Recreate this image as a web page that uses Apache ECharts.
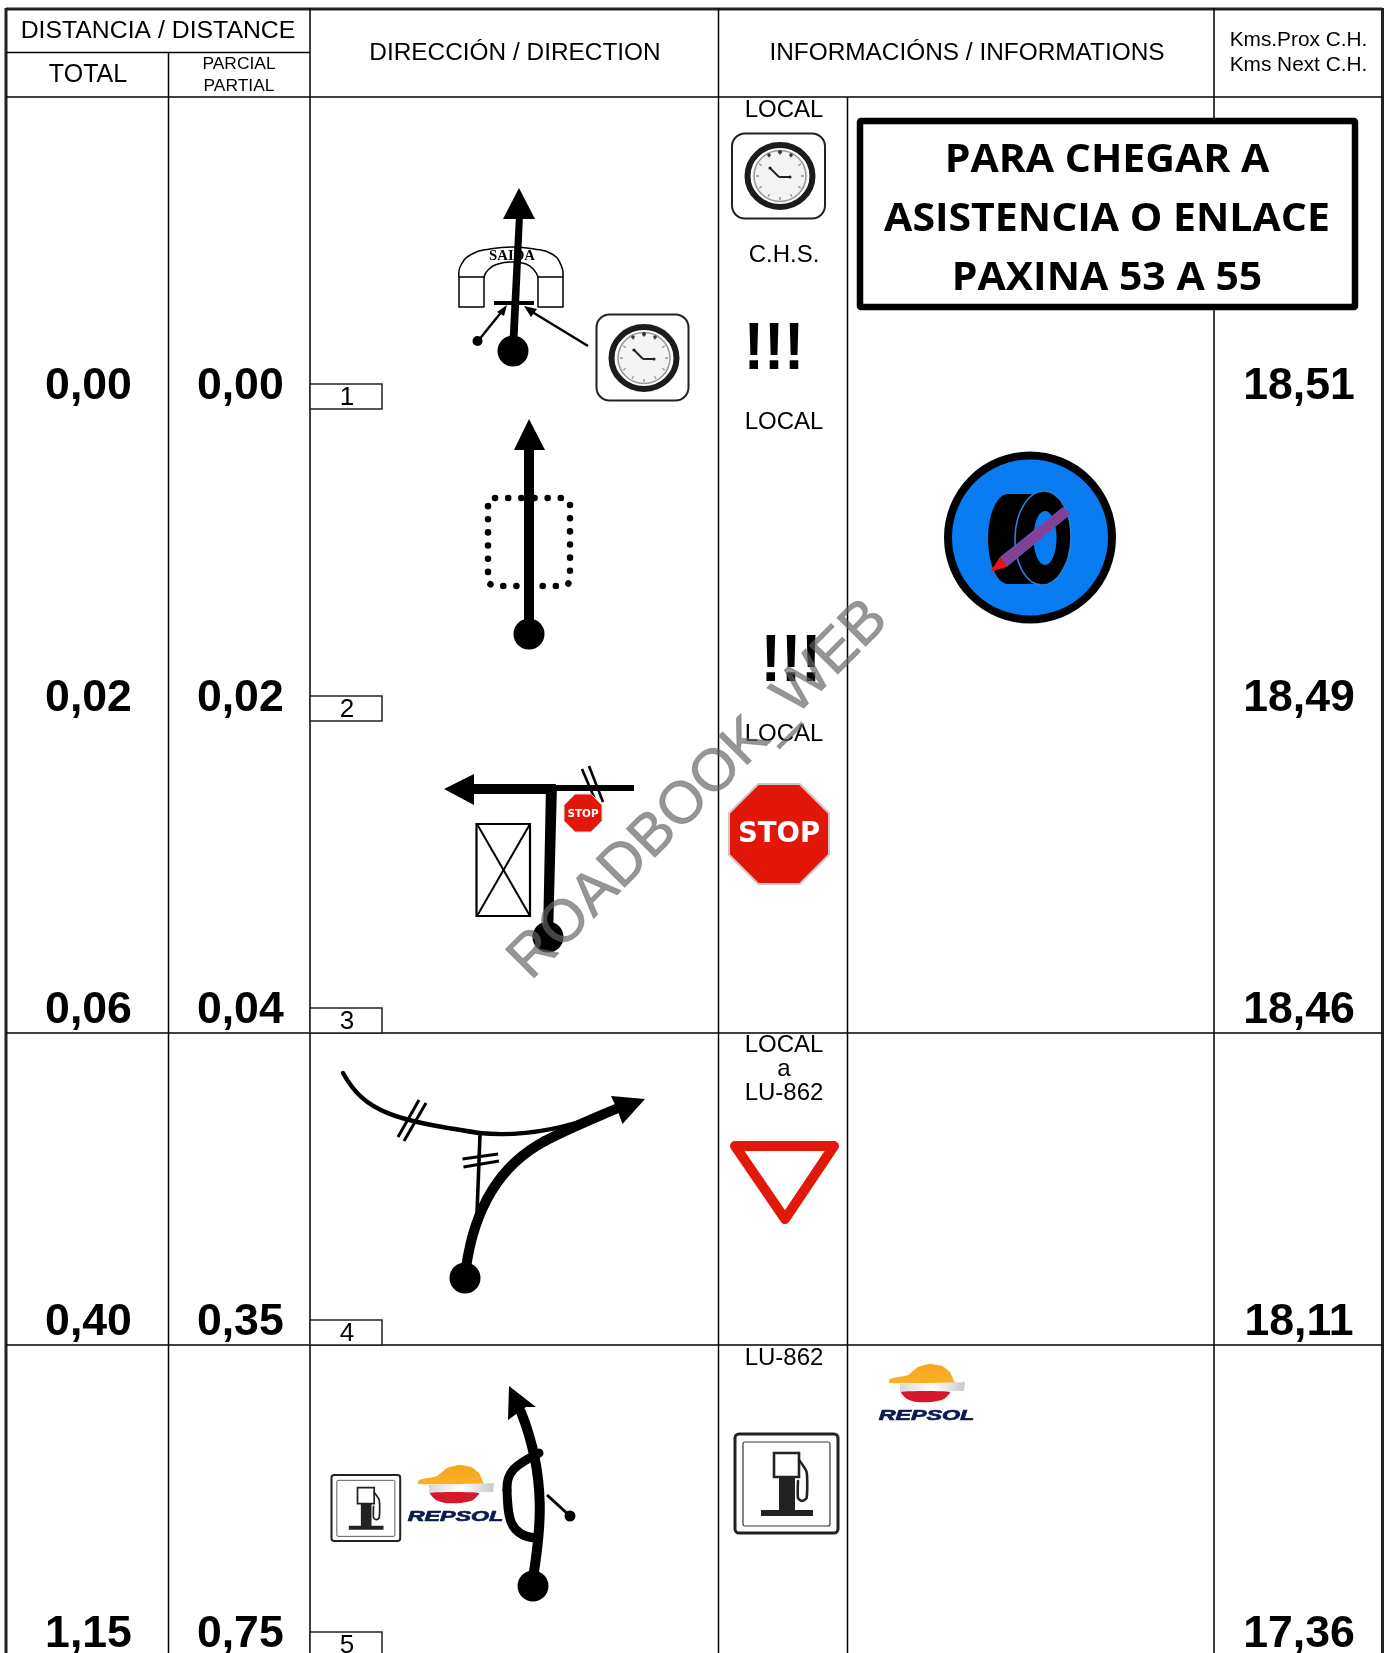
<!DOCTYPE html>
<html><head><meta charset="utf-8">
<style>html,body{margin:0;padding:0;background:#fff}#c{width:1389px;height:1653px}</style>
<script src="https://cdn.jsdelivr.net/npm/echarts@6/dist/echarts.min.js"></script>
</head><body><div id="c"></div>
<script>
const totals = ['0,00','0,02','0,06','0,40','1,15'];
const partials = ['0,00','0,02','0,04','0,35','0,75'];
const nextCH = ['18,51','18,49','18,46','18,11','17,36'];
const stepNumbers = ['1','2','3','4','5'];
const roadLabels = [['LOCAL'],['LOCAL'],['LOCAL'],['LOCAL','a','LU-862'],['LU-862']];
const noticeLines = ['PARA CHEGAR A','ASISTENCIA O ENLACE','PAXINA 53 A 55'];

const SANS='"Liberation Sans",Arial,sans-serif';
const K='#000';
const g=[];
function add(e,z){e.z=z||1;e.silent=true;g.push(e);return e;}
function T(s,x,base,size,o){o=o||{};return {type:'text',x:x,y:base-0.26*size,scaleX:o.sx||1,scaleY:o.sy||1,rotation:o.rot||0,z:3,silent:true,
  style:{text:s,fill:o.fill||K,textAlign:o.align||'center',textVerticalAlign:'middle',textBaseline:'middle',
  font:(o.w||'normal')+' '+size+'px '+(o.fam||SANS)}};}
function L(x1,y1,x2,y2,w,c,cap){return {type:'line',shape:{x1,y1,x2,y2},style:{stroke:c||K,lineWidth:w||1.5,lineCap:cap||'butt'},z:2,silent:true};}
function P(pts,fill,stroke,w){return {type:'polygon',shape:{points:pts},style:{fill:fill||K,stroke:stroke||null,lineWidth:w||0,lineJoin:'round'},z:2,silent:true};}
function PL(pts,w,smooth,c){return {type:'polyline',shape:{points:pts,smooth:smooth||0},style:{stroke:c||K,lineWidth:w,fill:null,lineCap:'round',lineJoin:'round'},z:2,silent:true};}
function B(x1,y1,cpx1,cpy1,cpx2,cpy2,x2,y2,w){return {type:'bezierCurve',shape:{x1,y1,cpx1,cpy1,cpx2,cpy2,x2,y2},style:{stroke:K,lineWidth:w,fill:null,lineCap:'round'},z:2,silent:true};}
function C(cx,cy,r,fill,stroke,w){return {type:'circle',shape:{cx,cy,r},style:{fill:fill||K,stroke:stroke||null,lineWidth:w||0},z:2,silent:true};}
function E(cx,cy,rx,ry,fill,stroke,w,rot){return {type:'ellipse',x:cx,y:cy,rotation:rot||0,shape:{cx:0,cy:0,rx,ry},style:{fill:fill,stroke:stroke||null,lineWidth:w||0},z:2,silent:true};}
function R(x,y,w,h,fill,stroke,lw,r){return {type:'rect',shape:{x,y,width:w,height:h,r:r||0},style:{fill:fill===undefined?K:fill,stroke:stroke||null,lineWidth:lw||0},z:2,silent:true};}
function G(x,y,s,children){return {type:'group',x,y,scaleX:s,scaleY:s,children,silent:true};}

/* ----- table lines ----- */
const rowBottoms=[409,721,1033,1345,1657];
[L(6,9,1382.5,9,3,'#222'),L(6,8,6,1653,3,'#222'),L(1382.5,8,1382.5,1653,3,'#222'),
 L(6,52.5,310,52.5),L(6,97,1382,97),L(6,1033,1382,1033),L(6,1345,1382,1345),
 L(168.5,52,168.5,1653),L(310,8,310,1653),L(718.5,8,718.5,1653),L(847.5,97,847.5,1653),L(1214,8,1214,1653)].forEach(e=>add(e));

/* header */
[T('DISTANCIA / DISTANCE',158,38,24.8),T('TOTAL',88,82,25),T('PARCIAL',239,69,17.4),T('PARTIAL',239,91,17.4),
 T('DIRECCIÓN / DIRECTION',515,60,24.4),T('INFORMACIÓNS / INFORMATIONS',967,60,24.4),
 T('Kms.Prox C.H.',1298.5,46,20.8),T('Kms Next C.H.',1298.5,71,20.8)].forEach(e=>add(e,3));

/* step boxes */
stepNumbers.forEach((n,i)=>{const b=rowBottoms[i];
  add(R(310,b-25,72,25,'#fff','#222',1.5));
  add(T(n,347,b-4,26),3);
});

/* road labels */
const labelBase=[[117],[429],[741],[1052,1076,1100],[1365]];
roadLabels.forEach((ls,i)=>ls.forEach((s,j)=>add(T(s,784,labelBase[i][j],24),3)));
add(T('C.H.S.',784,262,24),3);
add(T('!!!',774,368,66,{w:'bold',sx:0.92}),3);
add(T('!!!',791,680,66,{w:'bold',sx:0.92}),3);

/* notice box */
add(R(860,121,495,186,'#fff',K,6.5,1),5);
noticeLines.forEach((s,i)=>add(T(s,1107,[171,230,289][i],40,{w:'bold',fam:'"Open Sans",sans-serif',sx:1.025}),6));

/* clock */
function clock(cx,cy){const ch=[E(0,0,32.5,31,'#fff','#1c1c1c',6),E(0,0,26,25.5,'#f4f4f4','#9a9a9a',1.6)];
  for(let i=0;i<12;i++){const a=i*Math.PI/6;ch.push(L(Math.sin(a)*21,-Math.cos(a)*21,Math.sin(a)*24,-Math.cos(a)*24,1,'#666'));}
  ch.push(L(-10,-8,-1,1,2,'#222'),L(-1,1,10,1,2,'#222'),C(-10,-8,1.6,'#222'),C(10,1,1.6,'#222'),C(0,-24,2,'#333'),C(-11,-21,1.8,'#333'),C(11,-21,1.8,'#333'));
  return G(cx,cy,1,ch);}
add(R(596.5,314.5,92,86,'#fff','#222',2,13));
add(clock(644,358));
add(R(732,133.5,93,85,'#fff','#222',2,13));
add(clock(780,176));

function ball(x,y){return C(x,y,15.5);}

/* row 1 route */
add(P([[509,351],[517,351],[523,215],[516,215]]));
add(P([[519,188],[503,219],[535,219]]));
add(ball(513,351));
add(PL([[459,277],[461,265],[472,254],[490,249],[512,247],[534,249],[552,254],[561,265],[563,277]],1.5,0.5));
add(PL([[484,277],[488,270],[498,264],[512,262],[526,264],[534,270],[538,277]],1.5,0.5));
add(PL([[459,277],[459,307],[484,307],[484,277],[459,277]],1.5));
add(PL([[538,277],[538,307],[563,307],[563,277],[538,277]],1.5));
add(T('SAIDA',512,260,15.5,{w:'bold',fam:'"Liberation Serif",serif',sx:0.95}),3);
add(R(494,301,40,4));
add(L(478,341,503,310,2.4));add(C(477.5,341,5));
add(P([[507,305],[497,312],[504,316]]));
add(L(588,346,529,310,2.4));
add(P([[524,306],[537,309],[531,317]]));

/* row 2 route */
add(L(529,450,529,634,10));
add(P([[529,419],[514,450],[545,450]]));
add(ball(529,634));
add({type:'rect',shape:{x:488,y:498,width:82,height:88,r:7},style:{fill:null,stroke:K,lineWidth:6.5,lineCap:'round',lineDash:[0.1,13.05]},silent:true});

/* row 3 route */
add(P([[543,937],[553,937],[557,785],[546,785]]));
add(ball(548,937));
add(R(470,784,86,10));
add(P([[444,789],[474,774],[474,805]]));
add(L(550,788,634,788,6));
add(L(582,769,596,802,2.6));add(L(589,766,603,802,2.6));
add(R(476.5,824,53.5,92,'#fff',K,2.2));
add(L(477,824,530,916,2));add(L(530,824,477,916,2));

/* stop signs */
function stop(cx,cy,r,font,border){const a=r*0.414;
  return G(cx,cy,1,[P([[-a,-r],[a,-r],[r,-a],[r,a],[a,r],[-a,r],[-r,a],[-r,-a]],'#e2170a',border?'#c9c9c9':'#ddd',border?2:1),
   {type:'text',x:0,y:1,z:4,silent:true,style:{text:'STOP',fill:'#fff',textAlign:'center',textVerticalAlign:'middle',textBaseline:'middle',font:'bold '+font+'px "DejaVu Sans",sans-serif'}}]);}
add(stop(583,813,19,10.4,false),3);
add(stop(779,834,50,27.5,true),3);

/* row 4 route */
add(B(343,1073,365,1113,395,1120,479,1133,4.4));
add(B(479,1133,520,1137,560,1130,600,1115,4.4));
add(PL([[480,1135],[477,1213]],3.6));
add(B(466,1268,472,1225,490,1170,545,1141,10));
add(B(545,1141,570,1128,595,1118,618,1108,10));
add(P([[645,1099],[611,1096],[617,1109],[622.5,1124]]));
add(ball(465,1278));
add(L(462.5,1159,498,1154,3));add(L(463.5,1167,499,1161,3));
add(L(419,1100,398,1137,3));add(L(426,1103,404,1141,3));

/* yield sign */
add({type:'polygon',shape:{points:[[735,1146],[834,1146],[785,1219]]},style:{fill:'#fff',stroke:'#e3170a',lineWidth:10,lineJoin:'round'},silent:true});

/* row 5 route */
add(B(533,1578,540,1535,548,1480,521,1412,10));
add(P([[509,1386],[536,1407],[526,1407],[508,1420]]));
add(B(539,1453,515,1465,506,1472,507,1490,9));
add(B(507,1490,508,1515,508,1536,536,1538,9));
add(E(533,1586,15.5,15.5,K));
add(L(547,1495,570,1516,3));add(C(570,1516,5.5));

/* fuel icon */
function fuel(x,y,s){return G(x,y,s,[
  R(0,0,103,99,'#fff','#222',3,4),R(8,8,87,84,'#fff','#333',1.2,2),
  R(26,76,52,6,'#222'),R(39,19,25,24,'#fff','#222',2.6),R(44,43,16,34,'#222'),
  PL([[64,26],[71.6,38],[71.6,64],[67,67],[63,64],[63,47]],2.6,0.2,'#222')]);}
add(fuel(331.5,1475,0.667));
add(fuel(735,1434,1));

/* repsol logo */
function repsol(x,y){const grad={type:'linear',x:0,y:0,x2:0,y2:1,colorStops:[{offset:0,color:'#f5a623'},{offset:1,color:'#fbb024'}]};
 const band={type:'linear',x:0,y:0,x2:1,y2:0,colorStops:[{offset:0,color:'#d8d8d8'},{offset:0.5,color:'#fff'},{offset:1,color:'#c8c8c8'}]};
 return G(x,y,1,[
  {type:'polygon',shape:{points:[[11,19],[12,15],[30,11],[40,3],[52,0],[64,2],[72,8],[76,17],[77,19]],smooth:0.15},style:{fill:grad},z:2,silent:true},
  P([[22,20],[87,18],[86,27],[22,28]],band),
  {type:'polygon',shape:{points:[[23,28],[72,28],[66,35],[54,38],[38,38],[29,35]],smooth:0.2},style:{fill:'#d6182b'},z:2,silent:true},
  {type:'text',x:48.5,y:52,z:3,scaleX:1.5,scaleY:1,silent:true,style:{text:'REPSOL',fill:'#0c1c52',stroke:'#0c1c52',lineWidth:0.7,textAlign:'center',textVerticalAlign:'middle',textBaseline:'middle',font:'italic bold 15.5px "Liberation Sans",sans-serif'}}
 ]);}
add(repsol(878,1364),3);
add(repsol(407,1465),3);

/* tyre badge */
add(C(1030,537.5,82,'#0a7cf2','#000',8));
add(E(1008,539,20,45,K));
add(R(1008,494,36,90,K));
add(E(1043,538,28,47,K,'#2f7fd6',1.6,-0.03));
add(E(1045,538,11.5,27,'#0a7cf2'));
add(P([[1063,507],[1071,514],[1006.7,567],[1000,557]],'#6a4fb0'));
add(L(1065,509,1002,560,1.4,'#a5306a'));add(L(1067.5,511,1004,563,1.4,'#a5306a'));add(L(1069.5,513,1006,565,1,'#a5306a'));
add(P([[1000,557],[1006.7,567],[990,572]],'#ee1111'));

/* watermark */
add({type:'text',x:699,y:790,rotation:Math.PI/4,silent:true,
  style:{text:'ROADBOOK_WEB',fill:'rgba(100,100,100,0.68)',stroke:'rgba(100,100,100,0.45)',lineWidth:1,textAlign:'center',textVerticalAlign:'middle',textBaseline:'middle',font:'normal 59px "Liberation Sans",sans-serif',shadowBlur:3,shadowColor:'rgba(100,100,100,.6)'}},50);

/* distance figures through a pixel-scaled hidden grid */
const colCentres=[88.5,240.3,1299];
const baseRow=[398,710,1022,1334,1646];
const cols=[totals,partials,nextCH];
const cellText=[],cellData=[];
cols.forEach((c,ci)=>c.forEach((v,ri)=>{cellText.push(v);cellData.push([colCentres[ci],baseRow[ri]]);}));

const chart=echarts.init(document.getElementById('c'),null,{renderer:'canvas',width:1389,height:1653});
chart.setOption({
  animation:false,backgroundColor:'#fff',
  grid:{left:0,right:0,top:0,bottom:0},
  xAxis:{type:'value',min:0,max:1389,show:false},
  yAxis:{type:'value',min:0,max:1653,inverse:true,show:false},
  series:[{type:'custom',coordinateSystem:'cartesian2d',data:cellData,clip:false,z:3,silent:true,
    renderItem:function(p,api){const c=api.coord([api.value(0),api.value(1)]);
      return {type:'text',x:c[0],y:c[1]-11.6,style:{text:cellText[p.dataIndex],fill:'#000',textAlign:'center',textVerticalAlign:'middle',textBaseline:'middle',font:'bold 44.6px '+SANS}};}}],
  graphic:{elements:g}
});
</script></body></html>
